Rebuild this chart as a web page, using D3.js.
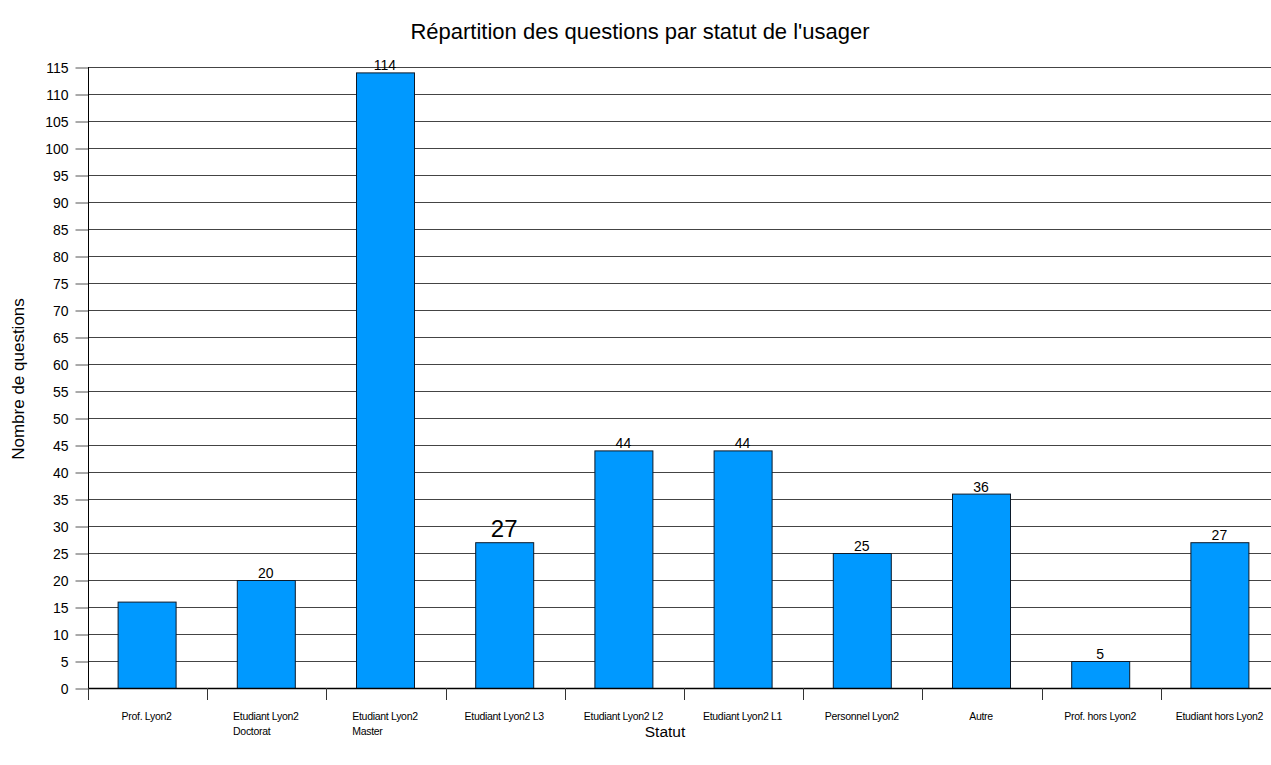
<!DOCTYPE html>
<html><head><meta charset="utf-8">
<script src="https://cdn.jsdelivr.net/npm/d3@7"></script>
<style>body{margin:0;background:#fff}svg{display:block}text{font-family:"Liberation Sans",Arial,sans-serif}</style>
</head><body>
<script>
const categories = [["Prof. Lyon2"],["Etudiant Lyon2","Doctorat"],["Etudiant Lyon2","Master"],["Etudiant Lyon2 L3"],["Etudiant Lyon2 L2"],["Etudiant Lyon2 L1"],["Personnel Lyon2"],["Autre"],["Prof. hors Lyon2"],["Etudiant hors Lyon2"]];
const values = [16,20,114,27,44,44,25,36,5,27];
const showLabel = [false,true,true,true,true,true,true,true,true,true];
const bigLabel = [false,false,false,true,false,false,false,false,false,false];
const yTicks = d3.range(0,116,5);

(function(){
const W=1271,H=765;
const svg=d3.select("body").append("svg").attr("width",W).attr("height",H);
const pL=88, pR=1280, pT=67, pB=688;
const x=d3.scaleBand().domain(d3.range(values.length)).range([pL,pR]).paddingInner(0).paddingOuter(0);
const y=d3.scaleLinear().domain([0,115]).range([pB,pT]);

// gridlines
svg.append("g").selectAll("line").data(yTicks.filter(d=>d>0)).join("line")
  .attr("x1",pL).attr("x2",pR).attr("y1",d=>y(d)+0.5).attr("y2",d=>y(d)+0.5)
  .attr("stroke","#444").attr("stroke-width",1);

// y axis
const ya=svg.append("g").attr("transform",`translate(${pL+0.5},0.5)`)
  .call(d3.axisLeft(y).tickValues(yTicks).tickSize(13).tickPadding(7));
ya.select(".domain").remove();
ya.selectAll(".tick line").attr("stroke","#555");
ya.selectAll("text").attr("font-size",14).attr("fill","#000").attr("font-family","Liberation Sans, Arial, sans-serif").attr("dy","0.35em");
svg.append("line").attr("x1",pL+0.5).attr("x2",pL+0.5).attr("y1",pT).attr("y2",pB).attr("stroke","#000");

// bars
const bw=58;
svg.append("g").selectAll("rect").data(values).join("rect")
  .attr("x",(d,i)=>x(i)+x.bandwidth()/2-bw/2-0.5).attr("width",bw)
  .attr("y",d=>y(d)+0.5).attr("height",d=>pB-y(d))
  .attr("fill","#0099ff").attr("stroke","#0c1a2a").attr("stroke-width",1);

// x axis baseline and ticks
svg.append("line").attr("x1",pL).attr("x2",pR).attr("y1",pB+0.5).attr("y2",pB+0.5).attr("stroke","#000").attr("stroke-width",1.5);
const bounds=d3.range(values.length+1).map(i=>pL+i*x.bandwidth());
svg.append("g").selectAll("line").data(bounds).join("line")
  .attr("x1",d=>Math.round(d)+0.5).attr("x2",d=>Math.round(d)+0.5).attr("y1",pB).attr("y2",pB+12)
  .attr("stroke","#333");

// value labels
svg.append("g").selectAll("text").data(values.map((v,i)=>({v,i})).filter(d=>showLabel[d.i])).join("text")
  .attr("x",d=>x(d.i)+x.bandwidth()/2-1).attr("y",d=>y(d.v)-(bigLabel[d.i]?5:2))
  .attr("text-anchor","middle").attr("font-size",d=>bigLabel[d.i]?24:14).attr("fill","#000")
  .text(d=>d.v);

// category labels
categories.forEach((lines,i)=>{
  const cx=x(i)+x.bandwidth()/2-1;
  const t=svg.append("text").attr("font-size",10.5).attr("letter-spacing","-0.3").attr("fill","#000").attr("y",720);
  t.append("tspan").text(lines[0]);
  const w=t.node().getComputedTextLength();
  t.select("tspan").attr("x",cx-w/2);
  lines.forEach((l,k)=>{ if(k>0) t.append("tspan").attr("x",cx-w/2).attr("dy",15).text(l); });
});

// titles
svg.append("text").attr("x",640).attr("y",39).attr("text-anchor","middle").attr("font-size",22).text("Répartition des questions par statut de l'usager");
svg.append("text").attr("x",665).attr("y",737).attr("text-anchor","middle").attr("font-size",15.5).text("Statut");
svg.append("text").attr("transform","translate(24,379) rotate(-90)").attr("text-anchor","middle").attr("font-size",17).text("Nombre de questions");
})();
</script>
</body></html>
